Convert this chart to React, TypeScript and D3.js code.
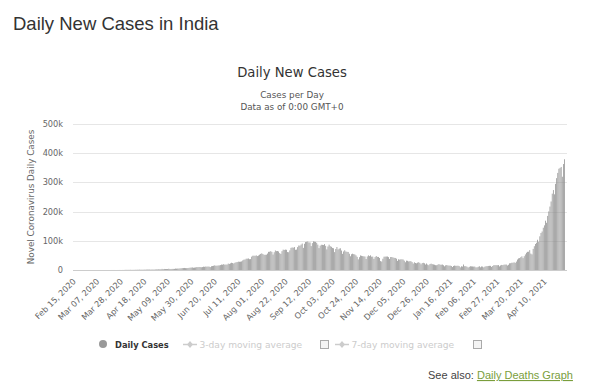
import React from "react";
import * as d3 from "d3";

// daily new cases in thousands, one array per month (Feb 15, 2020 .. Apr 28, 2021)
const feb2020 = [0, 0, 0, 0, 0, 0, 0, 0, 0, 0, 0, 0, 0, 0, 0];
const mar2020 = [0, 0, 0, 0.02, 0, 0, 0, 0.01, 0.01, 0.02, 0.01, 0.01, 0.01, 0.01, 0.02, 0.01, 0.03, 0.02, 0.02, 0.06, 0.08, 0.07, 0.1, 0.06, 0.09, 0.08, 0.14, 0.1, 0.07, 0.22, 0.15];
const apr2020 = [0.6, 0.6, 0.5, 0.5, 0.5, 0.7, 0.5, 0.6, 0.6, 0.9, 0.8, 0.9, 0.8, 1.2, 1.0, 1.1, 1.0, 1.4, 1.3, 1.4, 1.5, 1.4, 1.7, 1.4, 1.8, 1.6, 1.5, 1.8, 1.9, 1.8];
const may2020 = [2.4, 2.4, 2.6, 3.9, 3.0, 3.6, 3.3, 3.3, 3.3, 4.3, 3.6, 3.5, 3.8, 3.8, 3.8, 4.9, 4.6, 5.0, 5.0, 5.6, 6.0, 6.6, 6.7, 7.0, 6.5, 6.4, 6.6, 7.3, 8.0, 8.4, 8.8];
const jun2020 = [7.7, 8.2, 8.9, 9.9, 9.9, 10.4, 10.0, 9.5, 10.0, 11.4, 11.0, 11.9, 11.5, 11.9, 11.5, 10.0, 12.9, 13.6, 14.5, 15.9, 14.8, 14.9, 15.5, 15.9, 16.9, 18.6, 18.2, 19.9, 18.5, 18.6];
const jul2020 = [18.7, 22.0, 20.9, 22.8, 24.8, 23.9, 22.4, 24.9, 26.5, 27.1, 28.6, 28.2, 28.5, 29.4, 32.7, 35.3, 35.9, 38.7, 38.9, 39.5, 37.1, 37.4, 45.7, 48.9, 49.0, 48.7, 50.1, 47.7, 49.6, 52.5, 55.1];
const aug2020 = [57.1, 54.7, 52.1, 52.1, 52.5, 56.3, 62.2, 62.6, 64.4, 62.2, 53.0, 60.9, 66.9, 64.6, 65.0, 63.5, 57.9, 55.1, 64.5, 69.7, 68.9, 69.9, 69.2, 61.4, 60.9, 67.2, 75.8, 77.3, 76.5, 78.5, 69.2];
const sep2020 = [69.9, 78.4, 83.9, 83.3, 87.1, 90.6, 75.8, 89.7, 95.7, 96.6, 97.6, 94.4, 94.4, 81.9, 92.1, 97.9, 97.0, 96.4, 93.3, 86.9, 75.0, 83.3, 86.5, 86.1, 85.4, 88.6, 82.8, 70.6, 80.5, 86.8];
const oct2020 = [81.5, 79.5, 75.6, 74.4, 61.3, 72.0, 78.8, 70.5, 73.3, 74.4, 66.7, 55.3, 63.5, 67.7, 63.4, 62.2, 61.9, 55.7, 47.0, 54.0, 55.8, 54.4, 53.4, 50.1, 45.1, 36.5, 43.9, 49.9, 48.6, 47.6, 46.9];
const nov2020 = [46.2, 37.6, 46.3, 50.2, 47.6, 50.3, 45.7, 45.9, 38.1, 44.3, 47.9, 44.9, 44.7, 41.1, 30.5, 29.1, 38.6, 45.6, 45.9, 46.2, 46.2, 44.1, 37.9, 44.4, 44.5, 43.1, 41.8, 41.3, 38.8, 31.1];
const dec2020 = [36.6, 35.6, 36.6, 36.6, 36.0, 32.0, 26.6, 32.1, 31.5, 29.4, 30.0, 30.3, 27.1, 22.1, 26.4, 24.0, 22.9, 25.2, 26.6, 24.3, 19.6, 23.9, 24.7, 23.0, 18.7, 22.3, 18.7, 16.4, 20.6, 21.8, 20.0];
const jan2021 = [19.1, 18.1, 16.5, 16.4, 18.1, 20.3, 18.1, 18.2, 18.7, 16.3, 12.6, 15.9, 16.9, 15.6, 15.1, 15.1, 13.8, 10.1, 13.8, 15.2, 14.5, 14.3, 14.8, 13.2, 9.1, 12.7, 11.7, 18.8, 13.1, 13.1, 11.4];
const feb2021 = [8.6, 11.0, 12.9, 12.4, 12.1, 11.7, 11.8, 9.1, 9.3, 11.1, 12.9, 9.3, 12.1, 11.7, 9.1, 11.6, 12.9, 13.2, 13.9, 14.3, 14.2, 10.6, 13.7, 16.7, 16.6, 16.5, 16.4, 16.8];
const mar2021 = [12.3, 15.5, 17.4, 16.8, 18.3, 18.6, 18.7, 15.4, 17.9, 22.9, 23.3, 24.9, 24.9, 26.3, 24.5, 28.9, 35.9, 39.7, 40.9, 43.8, 46.9, 40.7, 47.3, 53.4, 59.1, 62.3, 62.6, 68.0, 56.2, 53.5, 72.3];
const apr2021 = [81.5, 89.1, 93.2, 103.6, 96.6, 115.3, 126.8, 131.9, 144.8, 152.9, 168.9, 161.7, 185.2, 200.7, 217.3, 234.7, 261.5, 273.8, 259.2, 295.0, 314.6, 332.5, 346.8, 349.7, 352.9, 319.4, 362.9, 379.3];

const dailyCases = [
  feb2020, mar2020, apr2020, may2020, jun2020, jul2020, aug2020, sep2020,
  oct2020, nov2020, dec2020, jan2021, feb2021, mar2021, apr2021,
].flat();

const firstDay = new Date(2020, 1, 15);
const yTicks = [0, 100, 200, 300, 400, 500];
const labelEvery = 21;

const font = "'DejaVu Sans', sans-serif";

export default function App() {
  const width = 600;
  const height = 390;
  const plot = { left: 73, right: 565, top: 124, bottom: 270 };

  const dates = dailyCases.map((_, i) => d3.timeDay.offset(firstDay, i));
  const fmt = d3.timeFormat("%b %d, %Y");

  const x = d3
    .scaleBand<number>()
    .domain(d3.range(dailyCases.length))
    .range([plot.left, plot.right])
    .paddingInner(0.35)
    .paddingOuter(0.1);

  const y = d3.scaleLinear().domain([0, 500]).range([plot.bottom, plot.top]);

  const labelIdx = d3.range(0, dailyCases.length, labelEvery);

  return (
    <svg
      width={width}
      height={height}
      style={{ position: "absolute", left: 0, top: 0, background: "#fff" }}
    >
      {/* page heading */}
      <text x={13} y={30} fontFamily="'Liberation Sans', Arial, sans-serif" fontSize={18.5} fill="#333">
        Daily New Cases in India
      </text>

      {/* chart titles */}
      <text x={292} y={77} textAnchor="middle" fontFamily={font} fontSize={13.2} fill="#333">
        Daily New Cases
      </text>
      <text x={292} y={98} textAnchor="middle" fontFamily={font} fontSize={8.8} fill="#555">
        Cases per Day
      </text>
      <text x={292} y={110} textAnchor="middle" fontFamily={font} fontSize={8.8} fill="#555">
        Data as of 0:00 GMT+0
      </text>

      {/* grid + y labels */}
      {yTicks.map((t) => (
        <g key={t}>
          <line
            x1={plot.left}
            x2={plot.right + 2}
            y1={Math.round(y(t)) + 0.5}
            y2={Math.round(y(t)) + 0.5}
            stroke={t === 0 ? "#ccc" : "#e6e6e6"}
          />
          <text
            x={63}
            y={y(t) + 3}
            textAnchor="end"
            fontFamily={font}
            fontSize={8.2}
            fill="#666"
          >
            {t === 0 ? "0" : `${t}k`}
          </text>
        </g>
      ))}

      <text
        transform={`translate(34,${(plot.top + plot.bottom) / 2}) rotate(-90)`}
        textAnchor="middle"
        fontFamily={font}
        fontSize={8.8}
        fill="#666"
      >
        Novel Coronavirus Daily Cases
      </text>

      {/* bars */}
      {dailyCases.map((v, i) => (
        <rect
          key={i}
          x={x(i)}
          y={y(v)}
          width={x.bandwidth()}
          height={plot.bottom - y(v)}
          fill="#8a8a8a"
        />
      ))}

      {/* x labels */}
      {labelIdx.map((i) => {
        const cx = (x(i) ?? 0) + x.bandwidth() / 2 + 3;
        return (
          <text
            key={i}
            transform={`translate(${cx},282) rotate(-45)`}
            textAnchor="end"
            fontFamily={font}
            fontSize={8.2}
            fill="#666"
          >
            {fmt(dates[i])}
          </text>
        );
      })}

      {/* legend */}
      <g fontFamily={font}>
        <circle cx={103} cy={344} r={4} fill="#999" />
        <text x={115} y={347.5} fontSize={8.3} fontWeight="bold" fill="#333">
          Daily Cases
        </text>

        <line x1={183} x2={197} y1={344.5} y2={344.5} stroke="#ccc" strokeWidth={1.5} />
        <path d="M190,341 L193,344.5 L190,348 L187,344.5 Z" fill="#ccc" />
        <text x={199.5} y={347.5} fontSize={9.1} fill="#ccc">
          3-day moving average
        </text>
        <rect x={320.5} y={340.5} width={8} height={8} fill="#f4f4f4" stroke="#aaa" />

        <line x1={335} x2={349} y1={344.5} y2={344.5} stroke="#ccc" strokeWidth={1.5} />
        <path d="M342,341 L345,344.5 L342,348 L339,344.5 Z" fill="#ccc" />
        <text x={351.5} y={347.5} fontSize={9.1} fill="#ccc">
          7-day moving average
        </text>
        <rect x={473.5} y={340.5} width={8} height={8} fill="#f4f4f4" stroke="#aaa" />
      </g>

      {/* footer link */}
      <text x={428} y={379} fontFamily="'Liberation Sans', Arial, sans-serif" fontSize={11} fill="#444">
        See also:{" "}
        <tspan fill="#7a9e3c" textDecoration="underline">
          Daily Deaths Graph
        </tspan>
      </text>
    </svg>
  );
}
